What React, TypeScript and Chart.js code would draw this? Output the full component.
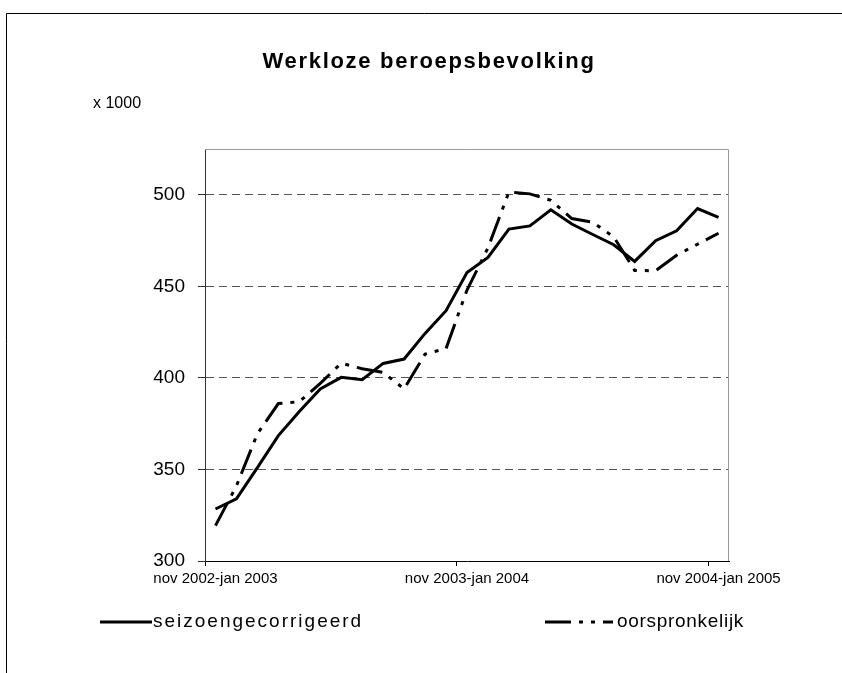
import { useEffect, useRef } from "react";
import { Chart, registerables } from "chart.js";

Chart.register(...registerables);

const categories = [
  "nov 2002-jan 2003",
  "dec 2002-feb 2003",
  "jan 2003-mrt 2003",
  "feb 2003-apr 2003",
  "mrt 2003-mei 2003",
  "apr 2003-jun 2003",
  "mei 2003-jul 2003",
  "jun 2003-aug 2003",
  "jul 2003-sep 2003",
  "aug 2003-okt 2003",
  "sep 2003-nov 2003",
  "okt 2003-dec 2003",
  "nov 2003-jan 2004",
  "dec 2003-feb 2004",
  "jan 2004-mrt 2004",
  "feb 2004-apr 2004",
  "mrt 2004-mei 2004",
  "apr 2004-jun 2004",
  "mei 2004-jul 2004",
  "jun 2004-aug 2004",
  "jul 2004-sep 2004",
  "aug 2004-okt 2004",
  "sep 2004-nov 2004",
  "okt 2004-dec 2004",
  "nov 2004-jan 2005",
];

const seizoengecorrigeerd = [
  328.4, 333.9, 351, 368.5, 381.7, 393.9, 400.3, 399, 407.9, 410.3, 424.3,
  436.7, 457.6, 465.8, 481.3, 483, 491.8, 484, 478.3, 472.7, 463.6, 474.9,
  480.3, 492.5, 487.6,
];

const oorspronkelijk = [
  319.3, 341, 369.5, 386, 387, 397, 408, 405, 403, 394, 413, 416, 448, 471,
  501.5, 500.5, 497, 487, 485, 477, 458.7, 458.5, 467, 473, 479,
];

const yTicks = [300, 350, 400, 450, 500];
const yMin = 300;
const yMax = 525;
const labelEvery = 12;

const titleText = "Werkloze beroepsbevolking";
const unitText = "x 1000";
const seriesNames = ["seizoengecorrigeerd", "oorspronkelijk"];

const FONT = "'Liberation Sans', Arial, Helvetica, sans-serif";
const DASH = [26, 8, 4, 8, 4, 8];

const decorPlugin = {
  id: "decor",
  afterDraw(chart: any) {
    const ctx: CanvasRenderingContext2D = chart.ctx;
    const { left, right, top, bottom } = chart.chartArea;
    const W = chart.width;
    const H = chart.height;
    ctx.save();
    // outer frame (top and left)
    ctx.strokeStyle = "#000";
    ctx.lineWidth = 1;
    ctx.setLineDash([]);
    ctx.beginPath();
    ctx.moveTo(6.5, H);
    ctx.lineTo(6.5, 13.5);
    ctx.lineTo(W, 13.5);
    ctx.stroke();

    // plot area border top & right
    ctx.strokeStyle = "#999";
    ctx.beginPath();
    ctx.moveTo(left, top + 0.5);
    ctx.lineTo(right - 0.5, top + 0.5);
    ctx.lineTo(right - 0.5, bottom);
    ctx.stroke();

    // title
    ctx.fillStyle = "#000";
    ctx.textAlign = "center";
    ctx.textBaseline = "middle";
    (ctx as any).letterSpacing = "1.7px";
    ctx.font = `bold 22px ${FONT}`;
    ctx.fillText(titleText, 429, 62);

    // unit label
    (ctx as any).letterSpacing = "0px";
    ctx.textAlign = "left";
    ctx.font = `16px ${FONT}`;
    ctx.fillText(unitText, 93, 104);

    // legend
    const ly = 622;
    ctx.lineWidth = 3;
    ctx.strokeStyle = "#000";
    ctx.lineCap = "butt";
    ctx.setLineDash([]);
    ctx.beginPath();
    ctx.moveTo(100, ly);
    ctx.lineTo(152, ly);
    ctx.stroke();
    ctx.setLineDash(DASH);
    ctx.beginPath();
    ctx.moveTo(545, ly);
    ctx.lineTo(613, ly);
    ctx.stroke();
    ctx.setLineDash([]);

    ctx.font = `19px ${FONT}`;
    ctx.textBaseline = "middle";
    (ctx as any).letterSpacing = "2px";
    ctx.fillText(seriesNames[0], 153, ly);
    (ctx as any).letterSpacing = "0.7px";
    ctx.fillText(seriesNames[1], 617, ly);
    (ctx as any).letterSpacing = "0px";
    ctx.restore();
  },
};

export default function App() {
  const ref = useRef<HTMLCanvasElement>(null);

  useEffect(() => {
    if (!ref.current) return;
    const chart = new Chart(ref.current, {
      type: "line",
      data: {
        labels: categories,
        datasets: [
          {
            label: seriesNames[0],
            data: seizoengecorrigeerd,
            borderColor: "#000",
            borderWidth: 3,
            pointRadius: 0,
            tension: 0,
            fill: false,
          },
          {
            label: seriesNames[1],
            data: oorspronkelijk,
            borderColor: "#000",
            borderWidth: 3,
            borderDash: DASH,
            borderCapStyle: "butt",
            pointRadius: 0,
            tension: 0,
            fill: false,
          },
        ],
      },
      options: {
        animation: false,
        responsive: false,
        devicePixelRatio: 1,
        layout: { padding: { left: 0, top: 149, right: 113, bottom: 72 } },
        plugins: {
          legend: { display: false },
          title: { display: false },
          tooltip: { enabled: false },
        },
        scales: {
          x: {
            type: "category",
            offset: true,
            afterFit: (s: any) => {
              s.height = 40;
            },
            grid: {
              offset: true,
              drawOnChartArea: false,
              tickLength: 5,
              color: (c: any) =>
                typeof c.index === "number" && c.index % labelEvery === 0
                  ? "#000"
                  : "rgba(0,0,0,0)",
            },
            border: { color: "#000", width: 1 },
            ticks: {
              autoSkip: false,
              maxRotation: 0,
              minRotation: 0,
              padding: 4,
              color: "#000",
              font: { family: FONT, size: 15 },
              callback: (_v: any, i: number) =>
                i % labelEvery === 0 ? categories[i] : "",
            },
          },
          y: {
            min: yMin,
            max: yMax,
            afterFit: (s: any) => {
              s.width = 205;
            },
            afterBuildTicks: (s: any) => {
              s.ticks = yTicks.map((v) => ({ value: v }));
            },
            grid: {
              color: (c: any) =>
                c.tick && c.tick.value === yMin ? "rgba(0,0,0,0)" : "#555",
              tickColor: "#333",
              tickLength: 7,
              lineWidth: 1,
            },
            border: { color: "#333", width: 1, dash: [8, 5] },
            ticks: {
              padding: 13,
              color: "#000",
              font: { family: FONT, size: 19 },
            },
          },
        },
      },
      plugins: [decorPlugin],
    } as any);
    return () => chart.destroy();
  }, []);

  return (
    <div style={{ position: "absolute", left: 0, top: 0, width: 842, height: 673, background: "#fff" }}>
      <canvas ref={ref} width={842} height={673} style={{ display: "block" }} />
    </div>
  );
}
